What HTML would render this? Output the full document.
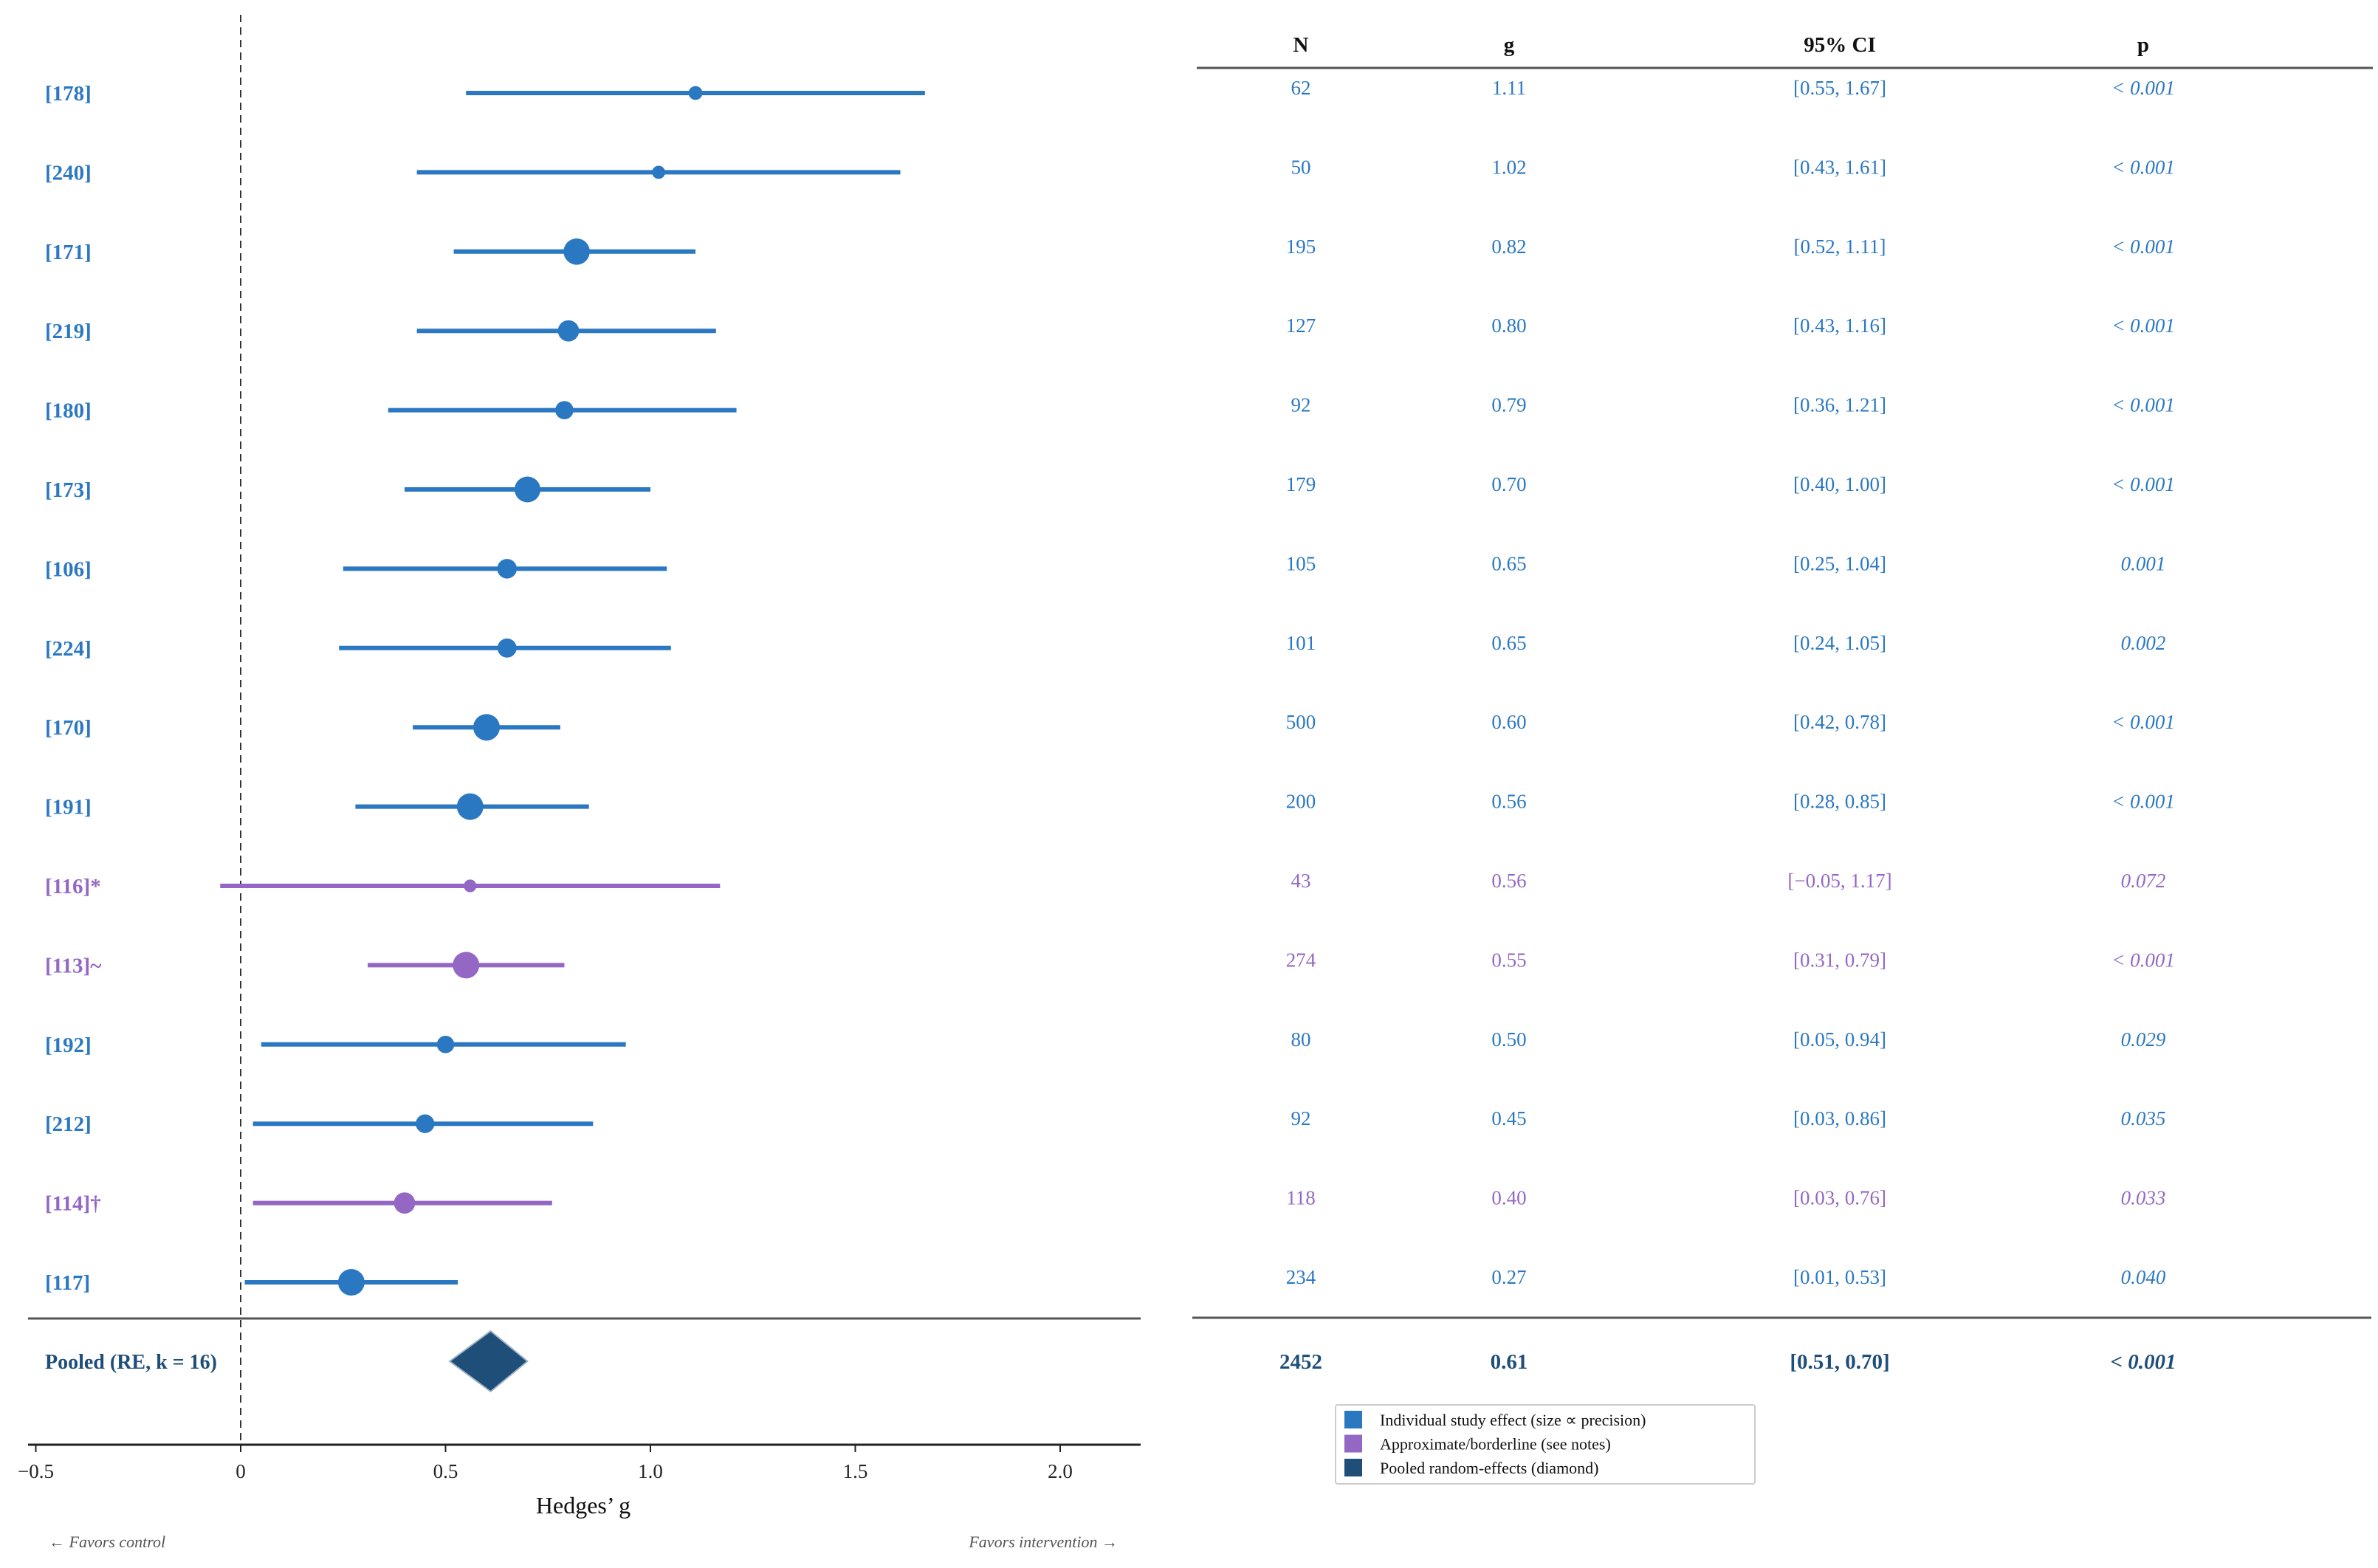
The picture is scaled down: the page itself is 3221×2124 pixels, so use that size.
<!DOCTYPE html>
<html><head><meta charset="utf-8"><style>
html,body{margin:0;padding:0;background:#fff;}
svg{display:block;font-family:"Liberation Serif",serif;}
</style></head><body>
<svg id="chart" width="3221" height="2124" viewBox="0 0 3221 2124" xmlns="http://www.w3.org/2000/svg">
<g id="plot"></g>
</svg>
<script>
const studies = ["[178]","[240]","[171]","[219]","[180]","[173]","[106]","[224]","[170]","[191]","[116]*","[113]~","[192]","[212]","[114]\u2020","[117]"];
const nValues = [62,50,195,127,92,179,105,101,500,200,43,274,80,92,118,234];
const gValues = [1.11,1.02,0.82,0.80,0.79,0.70,0.65,0.65,0.60,0.56,0.56,0.55,0.50,0.45,0.40,0.27];
const ciLow = [0.55,0.43,0.52,0.43,0.36,0.40,0.25,0.24,0.42,0.28,-0.05,0.31,0.05,0.03,0.03,0.01];
const ciHigh = [1.67,1.61,1.11,1.16,1.21,1.00,1.04,1.05,0.78,0.85,1.17,0.79,0.94,0.86,0.76,0.53];
const pLabels = ["< 0.001","< 0.001","< 0.001","< 0.001","< 0.001","< 0.001","0.001","0.002","< 0.001","< 0.001","0.072","< 0.001","0.029","0.035","0.033","0.040"];
const approx = [false,false,false,false,false,false,false,false,false,false,true,true,false,false,true,false];
const pooledN = 2452, pooledG = 0.61, pooledLow = 0.51, pooledHigh = 0.70, pooledP = "< 0.001";
const xTicks = [-0.5,0,0.5,1.0,1.5,2.0];
const xTickLabels = ["\u22120.5","0","0.5","1.0","1.5","2.0"];

const BLUE="#2b78c2", PURPLE="#9467c4", DARK="#1f4e79";
const NS="http://www.w3.org/2000/svg";
const root=document.getElementById('plot');
function x(v){return 326+v*555;}
function y(i){return 126+i*107.4;}
function fmt(v){return (v<0?"\u2212":"")+Math.abs(v).toFixed(2);}
function mk(tag,attrs,parent){const e=document.createElementNS(NS,tag);for(const k in attrs)e.setAttribute(k,attrs[k]);(parent||root).appendChild(e);return e;}
function txt(s,attrs){const e=mk('text',attrs);e.textContent=s;return e;}
const CN=1762, CG=2044, CCI=2492, CP=2903;

let el=mk('line',{x1:x(0),x2:x(0),y1:20,y2:1957,stroke:'#333','stroke-width':2,'stroke-dasharray':'10,7'});


el=mk('line',{x1:38,x2:1545,y1:1786,y2:1786,stroke:'#555','stroke-width':3});


el=mk('line',{x1:1621,x2:3214,y1:92,y2:92,stroke:'#555','stroke-width':3});


el=mk('line',{x1:1615,x2:3212,y1:1785,y2:1785,stroke:'#555','stroke-width':3});


el=mk('line',{x1:38,x2:1545,y1:1957,y2:1957,stroke:'#222','stroke-width':3});


xTicks.forEach((t,i)=>{
  let tk=mk('line',{x1:x(t),x2:x(t),y1:1957,y2:1967,stroke:'#222','stroke-width':2});
  
  
  let tl=txt(xTickLabels[i],{x:x(t),y:2002,'text-anchor':'middle','font-size':27,fill:'#222'});
  
  
});
el=txt("Hedges\u2019 g",{x:790,y:2050,'text-anchor':'middle','font-size':32,fill:'#111'});


el=txt("\u2190 Favors control",{x:66,y:2096,'font-size':22,'font-style':'italic',fill:'#555'});


el=txt("Favors intervention \u2192",{x:1514,y:2096,'text-anchor':'end','font-size':22,'font-style':'italic',fill:'#555'});



[["N",CN],["g",CG],["95% CI",CCI],["p",CP]].forEach(h=>{
  let t=txt(h[0],{x:h[1],y:70,'text-anchor':'middle','font-size':29,'font-weight':'bold',fill:'#111'});
  
  
});

studies.forEach((s,i)=>{
  const c=approx[i]?PURPLE:BLUE, yy=y(i);
  let lab=txt(s,{x:61,y:yy+10,'font-size':29,'font-weight':'bold',fill:c});
  
  
  let ln=mk('line',{x1:x(ciLow[i]),x2:x(ciHigh[i]),y1:yy,y2:yy,stroke:c,'stroke-width':6});
  
  
  const r=Math.max(6,Math.min(18,10.5/(ciHigh[i]-ciLow[i])));
  let pt=mk('circle',{cx:x(gValues[i]),cy:yy,r:r,fill:c});
  
  
  const ty=yy+2;
  let a=txt(String(nValues[i]),{x:CN,y:ty,'text-anchor':'middle','font-size':27,fill:c});
  
  
  let b=txt(gValues[i].toFixed(2),{x:CG,y:ty,'text-anchor':'middle','font-size':27,fill:c});
  
  
  let d=txt("["+fmt(ciLow[i])+", "+fmt(ciHigh[i])+"]",{x:CCI,y:ty,'text-anchor':'middle','font-size':27,fill:c});
  
  
  let p=txt(pLabels[i],{x:CP,y:ty,'text-anchor':'middle','font-size':27,'font-style':'italic',fill:c});
  
  
});

const py=1844;
el=txt("Pooled (RE, k = 16)",{x:61,y:py+10,'font-size':28,'font-weight':'bold',fill:DARK});


el=mk('polygon',{points:`${x(pooledLow)},${py} ${x(pooledG)},${py-41} ${x(pooledHigh)},${py} ${x(pooledG)},${py+41}`,fill:DARK,stroke:'#9fb3c8','stroke-width':2});


[[String(pooledN),CN,'normal'],[pooledG.toFixed(2),CG,'normal'],["["+fmt(pooledLow)+", "+fmt(pooledHigh)+"]",CCI,'normal'],[pooledP,CP,'italic']].forEach(v=>{
  let t=txt(v[0],{x:v[1],y:py+10,'text-anchor':'middle','font-size':29,'font-weight':'bold','font-style':v[2],fill:DARK});
  
  
});

const lg=mk('g',{});


mk('rect',{x:1809,y:1903,width:568,height:107,fill:'#fff',stroke:'#ccc','stroke-width':2,rx:3},lg);
[["Individual study effect (size \u221d precision)",BLUE],["Approximate/borderline (see notes)",PURPLE],["Pooled random-effects (diamond)",DARK]].forEach((e,i)=>{
  const ly=1923+i*32.5;
  let sw=mk('rect',{x:1821,y:ly-12,width:24,height:24,fill:e[1]},lg);
  
  
  let t=mk('text',{x:1869,y:ly+8,'font-size':22,fill:'#111'},lg);
  t.textContent=e[0];
  
  
});
</script>
</body></html>
